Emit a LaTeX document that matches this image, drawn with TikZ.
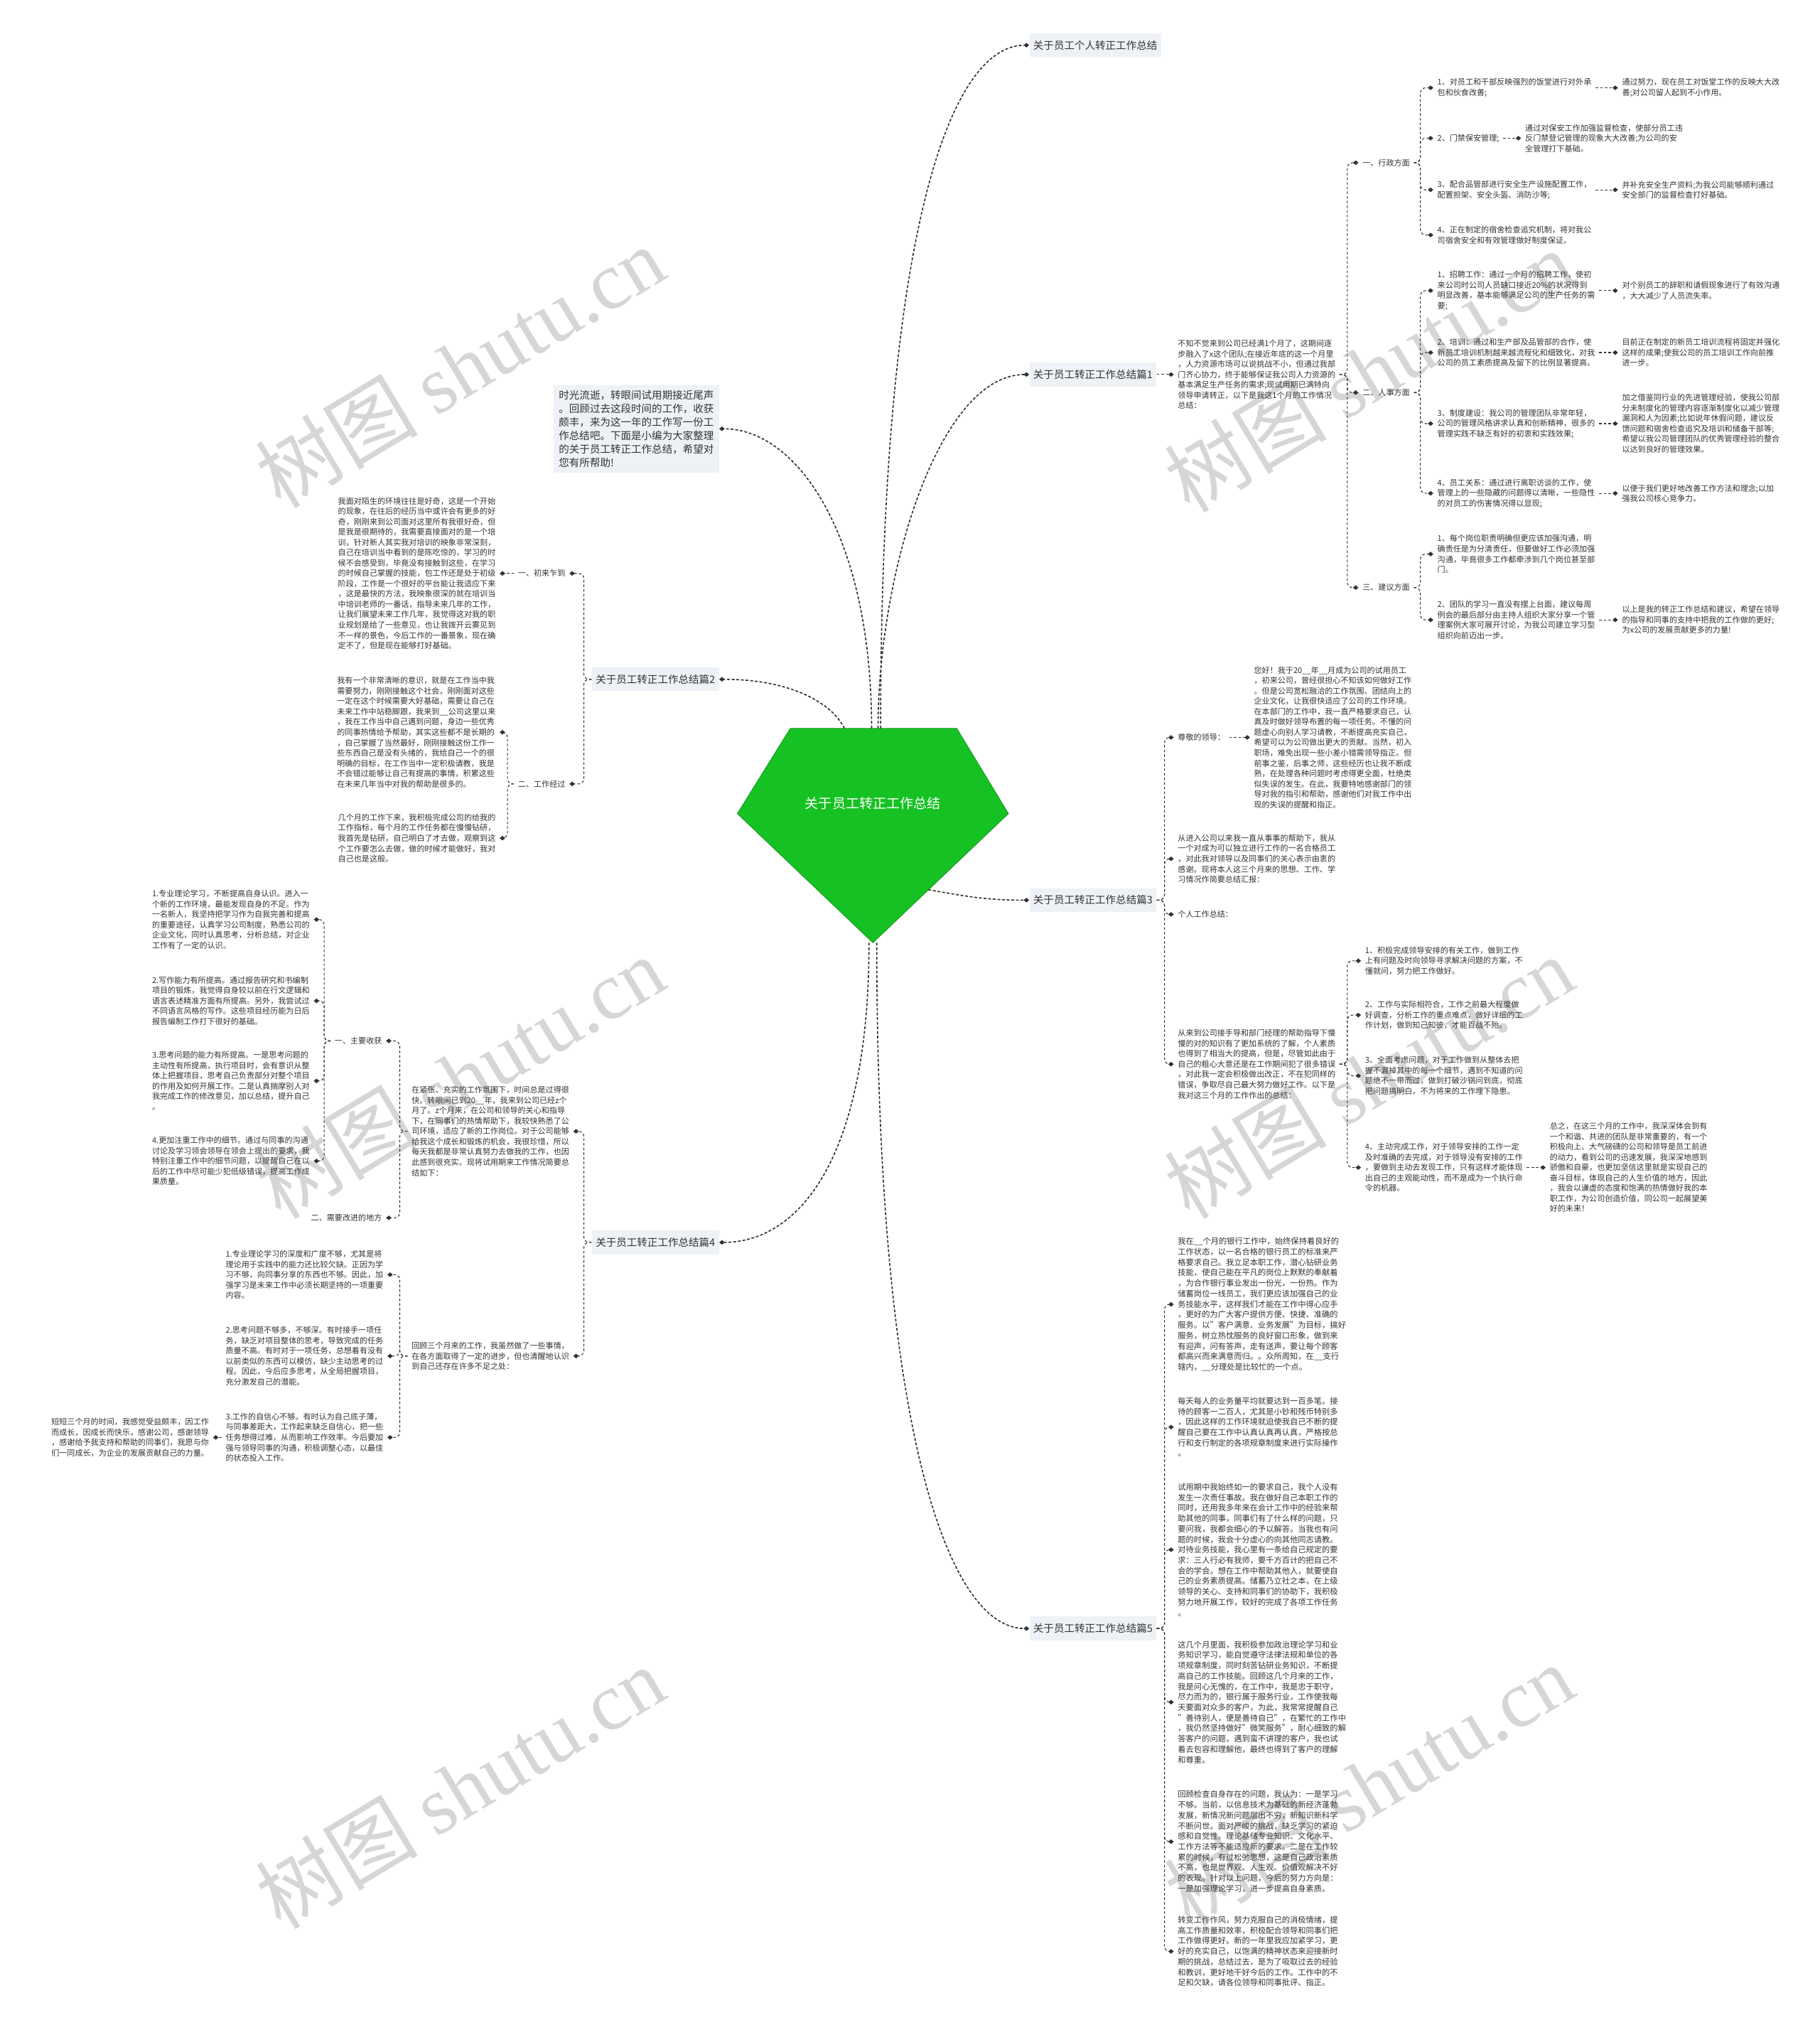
\documentclass[tikz,border=0pt]{standalone}
\usepackage{fontspec}
\setmainfont{Noto Sans CJK SC}
\newfontfamily\wmlatin{Liberation Serif}
\usetikzlibrary{arrows.meta}
\definecolor{Ink}{HTML}{333333}
\definecolor{Hub}{HTML}{16C123}
\definecolor{Tag}{HTML}{EEF1F5}
\definecolor{Mark}{HTML}{D6D6D6}
\tikzset{
  topic/.style={
    fill=Tag, text=Ink, font=\fontsize{8}{10.5}\selectfont,
    inner xsep=3pt, inner ysep=5.5pt, align=left
  },
  leaf/.style={
    text=Ink, font=\fontsize{6.1}{8}\selectfont, align=left,
    inner xsep=3pt, inner ysep=1pt
  },
  bankleaf/.style={leaf, font=\fontsize{6.2}{8.1}\selectfont},
  link/.style={
    draw=Ink, line width=0.6pt, dash pattern=on 2pt off 1.6pt,
    rounded corners=4pt, -{Diamond[length=4.2pt,width=3.6pt]}
  },
  hublink/.style={link, line width=0.9pt, dash pattern=on 2.2pt off 1.4pt},
  wm/.style={rotate=31, text=Mark, font=\fontsize{63}{63}\selectfont}
}

\begin{document}
\begin{tikzpicture}[x=1pt,y=-1pt]
  \useasboundingbox[fill=white] (0,0) rectangle (1409,1568);

  % watermark
  \node[wm] (wm1) at (356,284) {树图 {\wmlatin shutu.cn}};
  \node[wm] (wm2) at (1060,287) {树图 {\wmlatin shutu.cn}};
  \node[wm] (wm3) at (356,834) {树图 {\wmlatin shutu.cn}};
  \node[wm] (wm4) at (1060,834) {树图 {\wmlatin shutu.cn}};
  \node[wm] (wm5) at (356,1384) {树图 {\wmlatin shutu.cn}};
  \node[wm] (wm6) at (1060,1382) {树图 {\wmlatin shutu.cn}};

  % centre
  \filldraw[fill=Hub, draw=Hub!75!black, line width=0.4pt]
    (612,564) -- (741,564) -- (781,630) -- (676,730) -- (571,630) -- cycle;
  \node[text=white, font=\fontsize{10.5}{12}\selectfont] (hub) at (676,622) {关于员工转正工作总结};
  \coordinate (hubN) at (676,564);
  \coordinate (hubS) at (676,730);
  \coordinate (hubE) at (719,689);

  % topics
  \node[topic, anchor=west] (tA) at (797,35) {关于员工个人转正工作总结};
  \node[topic, anchor=west] (tB) at (797,290) {关于员工转正工作总结篇1};
  \node[topic, anchor=west] (tC) at (797,697) {关于员工转正工作总结篇3};
  \node[topic, anchor=west] (tE) at (797,1261) {关于员工转正工作总结篇5};
  \node[topic, anchor=east, inner xsep=4pt, inner ysep=4pt] (tS) at (557,332) {时光流逝，转眼间试用期接近尾声\\。回顾过去这段时间的工作，收获\\颇丰，来为这一年的工作写一份工\\作总结吧。下面是小编为大家整理\\的关于员工转正工作总结，希望对\\您有所帮助!};
  \node[topic, anchor=east] (tD) at (557,526) {关于员工转正工作总结篇2};
  \node[topic, anchor=east] (tF) at (557,962) {关于员工转正工作总结篇4};

  \draw[hublink] ([xshift=6pt]hubN) .. controls +(0,-390) and +(-60,0) .. (tA.west);
  \draw[hublink] ([xshift=4pt]hubN) .. controls +(0,-120) and +(-70,0) .. (tB.west);
  \draw[hublink] ([xshift=-1pt]hubN) .. controls +(0,-150) and +(60,0) .. (tS.east);
  \draw[hublink] ([xshift=-22pt]hubN) .. controls +(-10,-20) and +(55,0) .. (tD.east);
  \draw[hublink] (hubE) .. controls +(30,5) and +(-35,0) .. (tC.west);
  \draw[hublink] ([xshift=-3pt]hubS) .. controls +(0,170) and +(60,0) .. (tF.east);
  \draw[hublink] ([xshift=3pt]hubS) .. controls +(0,390) and +(-60,0) .. (tE.west);

  % part 1
  \node[leaf, anchor=west] (p1) at (909,290) {不知不觉来到公司已经满1个月了，这期间逐\\步融入了x这个团队;在接近年底的这一个月里\\，人力资源市场可以说挑战不小，但通过我部\\门齐心协力，终于能够保证我公司人力资源的\\基本满足生产任务的需求;现试用期已满特向\\领导申请转正，以下是我这1个月的工作情况\\总结：};
  \node[leaf, anchor=west] (b1) at (1052,126) {一、行政方面};
  \node[leaf, anchor=west] (b2) at (1052,304) {二、人事方面};
  \node[leaf, anchor=west] (b3) at (1052,455) {三、建议方面};
  \node[leaf, anchor=west] (i11) at (1110,68) {1、对员工和干部反映强烈的饭堂进行对外承\\包和伙食改善;};
  \node[leaf, anchor=west] (i12) at (1110,107) {2、门禁保安管理;};
  \node[leaf, anchor=west] (i13) at (1110,147) {3、配合品管部进行安全生产设施配置工作，\\配置担架、安全头盔、消防沙等;};
  \node[leaf, anchor=west] (i14) at (1110,182) {4、正在制定的宿舍检查追究机制，将对我公\\司宿舍安全和有效管理做好制度保证。};
  \node[leaf, anchor=west] (r11) at (1253,68) {通过努力，现在员工对饭堂工作的反映大大改\\善;对公司留人起到不小作用。};
  \node[leaf, anchor=west] (r12) at (1178,107) {通过对保安工作加强监督检查，使部分员工违\\反门禁登记管理的现象大大改善;为公司的安\\全管理打下基础。};
  \node[leaf, anchor=west] (r13) at (1253,147) {并补充安全生产资料;为我公司能够顺利通过\\安全部门的监督检查打好基础。};
  \node[leaf, anchor=west] (i21) at (1110,225) {1、招聘工作：通过一个月的招聘工作，使初\\来公司时公司人员缺口接近20\%的状况得到\\明显改善，基本能够满足公司的生产任务的需\\要;};
  \node[leaf, anchor=west] (i22) at (1110,273) {2、培训：通过和生产部及品管部的合作，使\\新员工培训机制越来越流程化和细致化，对我\\公司的员工素质提高及留下的比例显著提高。};
  \node[leaf, anchor=west] (i23) at (1110,328) {3、制度建设：我公司的管理团队非常年轻，\\公司的管理风格讲求认真和创新精神，很多的\\管理实践不缺乏有好的初衷和实践效果;};
  \node[leaf, anchor=west] (i24) at (1110,382) {4、员工关系：通过进行离职访谈的工作，使\\管理上的一些隐藏的问题得以清晰，一些隐性\\的对员工的伤害情况得以显现;};
  \node[leaf, anchor=west] (r21) at (1253,225) {对个别员工的辞职和请假现象进行了有效沟通\\，大大减少了人员流失率。};
  \node[leaf, anchor=west] (r22) at (1253,273) {目前正在制定的新员工培训流程将固定并强化\\这样的成果;使我公司的员工培训工作向前推\\进一步。};
  \node[leaf, anchor=west] (r23) at (1253,328) {加之借鉴同行业的先进管理经验，使我公司部\\分未制度化的管理内容逐渐制度化以减少管理\\漏洞和人为因素;比如说年休假问题，建议反\\馈问题和宿舍检查追究及培训和储备干部等;\\希望以我公司管理团队的优秀管理经验的整合\\以达到良好的管理效果。};
  \node[leaf, anchor=west] (r24) at (1253,382) {以便于我们更好地改善工作方法和理念;以加\\强我公司核心竞争力。};
  \node[leaf, anchor=west] (i31) at (1110,429) {1、每个岗位职责明确但更应该加强沟通，明\\确责任是为分清责任，但要做好工作必须加强\\沟通，毕竟很多工作都牵涉到几个岗位甚至部\\门。};
  \node[leaf, anchor=west] (i32) at (1110,480) {2、团队的学习一直没有摆上台面，建议每周\\例会的最后部分由主持人组织大家分享一个管\\理案例大家可展开讨论，为我公司建立学习型\\组织向前迈出一步。};
  \node[leaf, anchor=west] (r32) at (1253,480) {以上是我的转正工作总结和建议，希望在领导\\的指导和同事的支持中把我的工作做的更好;\\为x公司的发展贡献更多的力量!};

  \draw[link] (tB.east) -- (p1.west);
  \draw[link] (p1.east) -- ++(6,0) |- (b1.west);
  \draw[link] (p1.east) -- ++(6,0) |- (b2.west);
  \draw[link] (p1.east) -- ++(6,0) |- (b3.west);
  \draw[link] (b1.east) -- ++(5,0) |- (i11.west);
  \draw[link] (b1.east) -- ++(5,0) |- (i12.west);
  \draw[link] (b1.east) -- ++(5,0) |- (i13.west);
  \draw[link] (b1.east) -- ++(5,0) |- (i14.west);
  \draw[link] (i11.east) -- (r11.west);
  \draw[link] (i12.east) -- (r12.west);
  \draw[link] (i13.east) -- (r13.west);
  \draw[link] (b2.east) -- ++(5,0) |- (i21.west);
  \draw[link] (b2.east) -- ++(5,0) |- (i22.west);
  \draw[link] (b2.east) -- ++(5,0) |- (i23.west);
  \draw[link] (b2.east) -- ++(5,0) |- (i24.west);
  \draw[link] (i21.east) -- (r21.west);
  \draw[link] (i22.east) -- (r22.west);
  \draw[link] (i23.east) -- (r23.west);
  \draw[link] (i24.east) -- (r24.west);
  \draw[link] (b3.east) -- ++(5,0) |- (i31.west);
  \draw[link] (b3.east) -- ++(5,0) |- (i32.west);
  \draw[link] (i32.east) -- (r32.west);

  % part 2
  \node[leaf, anchor=east] (g1) at (441,444) {一、初来乍到};
  \node[leaf, anchor=east] (g2) at (441,607) {二、工作经过};
  \node[leaf, anchor=east] (g1p) at (387,444) {我面对陌生的环境往往是好奇，这是一个开始\\的现象，在往后的经历当中或许会有更多的好\\奇，刚刚来到公司面对这里所有我很好奇，但\\是我是很期待的，我需要直接面对的是一个培\\训，针对新人其实我对培训的映象非常深刻，\\自己在培训当中看到的是陈吃惊的，学习的时\\候不会感受到，毕竟没有接触到这些，在学习\\的时候自己掌握的技能，包工作还是处于初级\\阶段，工作是一个很好的平台能让我适应下来\\，这是最快的方法，我映象很深的就在培训当\\中培训老师的一番话，指导未来几年的工作，\\让我们展望未来工作几年，我觉得这对我的职\\业规划是给了一些意见，也让我拨开云雾见到\\不一样的景色，今后工作的一番景象，现在确\\定不了，但是现在能够打好基础。};
  \node[leaf, anchor=east] (g2a) at (387,567) {我有一个非常清晰的意识，就是在工作当中我\\需要努力，刚刚接触这个社会，刚刚面对这些\\一定在这个时候需要大好基础，需要让自己在\\未来工作中站稳脚跟，我来到\_\_公司这里以来\\，我在工作当中自己遇到问题，身边一些优秀\\的同事热情给予帮助，其实这些都不是长期的\\，自己掌握了当然最好，刚刚接触这份工作一\\些东西自己是没有头绪的，我给自己一个的很\\明确的目标，在工作当中一定积极请教，我是\\不会错过能够让自己有提高的事情，积累这些\\在未来几年当中对我的帮助是很多的。};
  \node[leaf, anchor=east] (g2b) at (387,649) {几个月的工作下来，我积极完成公司的给我的\\工作指标，每个月的工作任务都在慢慢钻研，\\我首先是钻研，自己明白了才去做，观察到这\\个工作要怎么去做，做的时候才能做好，我对\\自己也是这般。};

  \draw[link] (tD.west) -- ++(-6,0) |- (g1.east);
  \draw[link] (tD.west) -- ++(-6,0) |- (g2.east);
  \draw[link] (g1.west) -- (g1p.east);
  \draw[link] (g2.west) -- ++(-5,0) |- (g2a.east);
  \draw[link] (g2.west) -- ++(-5,0) |- (g2b.east);

  % part 3
  \node[leaf, anchor=west] (c1) at (909,571) {尊敬的领导：};
  \node[leaf, anchor=west] (c1p) at (968,571) {您好！我于20\_\_年\_\_月成为公司的试用员工\\，初来公司，曾经很担心不知该如何做好工作\\。但是公司宽松融洽的工作氛围、团结向上的\\企业文化，让我很快适应了公司的工作环境。\\在本部门的工作中，我一直严格要求自己，认\\真及时做好领导布置的每一项任务。不懂的问\\题虚心向别人学习请教，不断提高充实自己，\\希望可以为公司做出更大的贡献。当然，初入\\职场，难免出现一些小差小错需领导指正。但\\前事之鉴，后事之师，这些经历也让我不断成\\熟，在处理各种问题时考虑得更全面，杜绝类\\似失误的发生。在此，我要特地感谢部门的领\\导对我的指引和帮助，感谢他们对我工作中出\\现的失误的提醒和指正。};
  \node[leaf, anchor=west] (c2) at (909,665) {从进入公司以来我一直从事事的帮助下，我从\\一个对成为可以独立进行工作的一名合格员工\\，对此我对领导以及同事们的关心表示由衷的\\感谢。现将本人这三个月来的思想、工作、学\\习情况作简要总结汇报：};
  \node[leaf, anchor=west] (c3) at (909,708) {个人工作总结：};
  \node[leaf, anchor=west] (c4) at (909,824) {从来到公司接手导和部门经理的帮助指导下慢\\慢的对的知识有了更加系统的了解，个人素质\\也得到了相当大的提高，但是，尽管如此由于\\自己的粗心大意还是在工作期间犯了很多错误\\，对此我一定会积极做出改正，不在犯同样的\\错误，争取尽自己最大努力做好工作。以下是\\我对这三个月的工作作出的总结：};
  \node[leaf, anchor=west] (d1) at (1054,744) {1、积极完成领导安排的有关工作，做到工作\\上有问题及时向领导寻求解决问题的方案，不\\懂就问，努力把工作做好。};
  \node[leaf, anchor=west] (d2) at (1054,786) {2、工作与实际相符合，工作之前最大程度做\\好调查，分析工作的重点难点，做好详细的工\\作计划，做到知己知彼，才能百战不殆。};
  \node[leaf, anchor=west] (d3) at (1054,833) {3、全面考虑问题，对于工作做到从整体去把\\握不漏掉其中的每一个细节，遇到不知道的问\\题绝不一带而过，做到打破沙锅问到底，彻底\\把问题搞明白，不为将来的工作埋下隐患。};
  \node[leaf, anchor=west] (d4) at (1054,904) {4、主动完成工作，对于领导安排的工作一定\\及时准确的去完成，对于领导没有安排的工作\\，要做到主动去发现工作，只有这样才能体现\\出自己的主观能动性，而不是成为一个执行命\\令的机器。};
  \node[leaf, anchor=west] (d4p) at (1197,904) {总之，在这三个月的工作中，我深深体会到有\\一个和谐、共进的团队是非常重要的，有一个\\积极向上、大气磅礴的公司和领导是员工前进\\的动力，看到公司的迅速发展，我深深地感到\\骄傲和自豪，也更加坚信这里就是实现自己的\\奋斗目标，体现自己的人生价值的地方，因此\\，我会以谦虚的态度和饱满的热情做好我的本\\职工作，为公司创造价值，同公司一起展望美\\好的未来！};

  \draw[link] (tC.east) -- ++(6,0) |- (c1.west);
  \draw[link] (tC.east) -- ++(6,0) |- (c2.west);
  \draw[link] (tC.east) -- ++(6,0) |- (c3.west);
  \draw[link] (tC.east) -- ++(6,0) |- (c4.west);
  \draw[link] (c1.east) -- (c1p.west);
  \draw[link] (c4.east) -- ++(6,0) |- (d1.west);
  \draw[link] (c4.east) -- ++(6,0) |- (d2.west);
  \draw[link] (c4.east) -- ++(6,0) |- (d3.west);
  \draw[link] (c4.east) -- ++(6,0) |- (d4.west);
  \draw[link] (d4.east) -- (d4p.west);

  % part 4
  \node[leaf, anchor=east] (h1) at (444,876) {在紧张、充实的工作氛围下，时间总是过得很\\快。转眼间已到20\_\_年，我来到公司已经z个\\月了。z个月来，在公司和领导的关心和指导\\下，在同事们的热情帮助下，我较快熟悉了公\\司环境，适应了新的工作岗位。对于公司能够\\给我这个成长和锻炼的机会，我很珍惜，所以\\每天我都是非常认真努力去做我的工作，也因\\此感到很充实。现将试用期来工作情况简要总\\结如下：};
  \node[leaf, anchor=east] (h2) at (444,1050) {回顾三个月来的工作，我虽然做了一些事情，\\在各方面取得了一定的进步，但也清醒地认识\\到自己还存在许多不足之处：};
  \node[leaf, anchor=east] (k1) at (299,806) {一、主要收获};
  \node[leaf, anchor=east] (k2) at (299,943) {二、需要改进的地方};
  \node[leaf, anchor=east] (k11) at (243,712) {1.专业理论学习，不断提高自身认识。进入一\\个新的工作环境，最能发现自身的不足。作为\\一名新人，我坚持把学习作为自我完善和提高\\的重要途径，认真学习公司制度，熟悉公司的\\企业文化，同时认真思考，分析总结，对企业\\工作有了一定的认识。};
  \node[leaf, anchor=east] (k12) at (243,775) {2.写作能力有所提高。通过报告研究和书编制\\项目的锻炼，我觉得自身较以前在行文逻辑和\\语言表述精准方面有所提高。另外，我尝试过\\不同语言风格的写作。这些项目经历能为日后\\报告编制工作打下很好的基础。};
  \node[leaf, anchor=east] (k13) at (243,837) {3.思考问题的能力有所提高。一是思考问题的\\主动性有所提高，执行项目时，会有意识从整\\体上把握项目，思考自己负责部分对整个项目\\的作用及如何开展工作。二是认真揣摩别人对\\我完成工作的修改意见，加以总结，提升自己\\。};
  \node[leaf, anchor=east] (k14) at (243,899) {4.更加注重工作中的细节。通过与同事的沟通\\讨论及学习领会领导在领会上提出的要求，我\\特别注重工作中的细节问题，以提醒自己在以\\后的工作中尽可能少犯低级错误，提高工作成\\果质量。};
  \node[leaf, anchor=east] (m1) at (300,987) {1.专业理论学习的深度和广度不够，尤其是将\\理论用于实践中的能力还比较欠缺。正因为学\\习不够，向同事分享的东西也不够。因此，加\\强学习是未来工作中必须长期坚持的一项重要\\内容。};
  \node[leaf, anchor=east] (m2) at (300,1050) {2.思考问题不够多，不够深。有时接手一项任\\务，缺乏对项目整体的思考，导致完成的任务\\质量不高。有时对于一项任务，总想着有没有\\以前类似的东西可以模仿，缺少主动思考的过\\程。因此，今后应多思考，从全局把握项目，\\充分激发自己的潜能。};
  \node[leaf, anchor=east] (m3) at (300,1113) {3.工作的自信心不够。有时认为自己底子薄，\\与同事差距大，工作起来缺乏自信心，把一些\\任务想得过难，从而影响工作效率。今后要加\\强与领导同事的沟通，积极调整心态，以最佳\\的状态投入工作。};
  \node[leaf, anchor=east] (m3p) at (165,1113) {短短三个月的时间，我感觉受益颇丰，因工作\\而成长，因成长而快乐，感谢公司，感谢领导\\，感谢给予我支持和帮助的同事们，我愿与你\\们一同成长，为企业的发展贡献自己的力量。};

  \draw[link] (tF.west) -- ++(-6,0) |- (h1.east);
  \draw[link] (tF.west) -- ++(-6,0) |- (h2.east);
  \draw[link] (h1.west) -- ++(-6,0) |- (k1.east);
  \draw[link] (h1.west) -- ++(-6,0) |- (k2.east);
  \draw[link] (k1.west) -- ++(-5,0) |- (k11.east);
  \draw[link] (k1.west) -- ++(-5,0) |- (k12.east);
  \draw[link] (k1.west) -- ++(-5,0) |- (k13.east);
  \draw[link] (k1.west) -- ++(-5,0) |- (k14.east);
  \draw[link] (h2.west) -- ++(-6,0) |- (m1.east);
  \draw[link] (h2.west) -- ++(-6,0) |- (m2.east);
  \draw[link] (h2.west) -- ++(-6,0) |- (m3.east);
  \draw[link] (m3.west) -- (m3p.east);

  % part 5
  \node[bankleaf, anchor=west] (e1) at (909,1010) {我在\_\_个月的银行工作中，始终保持着良好的\\工作状态，以一名合格的银行员工的标准来严\\格要求自己。我立足本职工作，潜心钻研业务\\技能，使自己能在平凡的岗位上默默的奉献着\\，为合作银行事业发出一份光，一份热。作为\\储蓄岗位一线员工，我们更应该加强自己的业\\务技能水平，这样我们才能在工作中得心应手\\，更好的为广大客户提供方便、快捷、准确的\\服务。以"客户满意、业务发展"为目标，搞好\\服务，树立热忱服务的良好窗口形象，做到来\\有迎声，问有答声，走有送声，要让每个顾客\\都高兴而来满意而归。。众所周知，在\_\_支行\\辖内，\_\_分理处是比较忙的一个点。};
  \node[bankleaf, anchor=west] (e2) at (909,1105) {每天每人的业务量平均就要达到一百多笔。接\\待的顾客一二百人，尤其是小钞和残币特别多\\，因此这样的工作环境就迫使我自己不断的提\\醒自己要在工作中认真认真再认真，严格按总\\行和支行制定的各项规章制度来进行实际操作\\。};
  \node[bankleaf, anchor=west] (e3) at (909,1200) {试用期中我始终如一的要求自己，我个人没有\\发生一次责任事故。我在做好自己本职工作的\\同时，还用我多年来在会计工作中的经验来帮\\助其他的同事，同事们有了什么样的问题，只\\要问我，我都会细心的予以解答。当我也有问\\题的时候，我会十分虚心的向其他同志请教。\\对待业务技能，我心里有一条给自己规定的要\\求：三人行必有我师，要千方百计的把自己不\\会的学会。想在工作中帮助其他人，就要使自\\己的业务素质提高。储蓄乃立社之本，在上级\\领导的关心、支持和同事们的协助下，我积极\\努力地开展工作，较好的完成了各项工作任务\\。};
  \node[bankleaf, anchor=west] (e4) at (909,1318) {这几个月里面，我积极参加政治理论学习和业\\务知识学习，能自觉遵守法律法规和单位的各\\项规章制度，同时刻苦钻研业务知识，不断提\\高自己的工作技能。回顾这几个月来的工作，\\我是问心无愧的，在工作中，我是忠于职守，\\尽力而为的，银行属于服务行业，工作使我每\\天要面对众多的客户，为此，我常常提醒自己\\"善待别人，便是善待自己"，在繁忙的工作中\\，我仍然坚持做好"微笑服务"，耐心细致的解\\答客户的问题，遇到蛮不讲理的客户，我也试\\着去包容和理解他，最终也得到了客户的理解\\和尊重。};
  \node[bankleaf, anchor=west] (e5) at (909,1426) {回顾检查自身存在的问题，我认为：一是学习\\不够。当前，以信息技术为基础的新经济蓬勃\\发展，新情况新问题层出不穷，新知识新科学\\不断问世。面对严峻的挑战，缺乏学习的紧迫\\感和自觉性。理论基储专业知识、文化水平、\\工作方法等不能适应新的要求。二是在工作较\\累的时候，有过松弛思想，这是自己政治素质\\不高，也是世界观、人生观、价值观解决不好\\的表现。针对以上问题，今后的努力方向是：\\一是加强理论学习，进一步提高自身素质。};
  \node[bankleaf, anchor=west] (e6) at (909,1511) {转变工作作风，努力克服自己的消极情绪，提\\高工作质量和效率，积极配合领导和同事们把\\工作做得更好。新的一年里我应加紧学习，更\\好的充实自己，以饱满的精神状态来迎接新时\\期的挑战，总结过去，是为了吸取过去的经验\\和教训，更好地干好今后的工作。工作中的不\\足和欠缺，请各位领导和同事批评、指正。};

  \draw[link] (tE.east) -- ++(6,0) |- (e1.west);
  \draw[link] (tE.east) -- ++(6,0) |- (e2.west);
  \draw[link] (tE.east) -- ++(6,0) |- (e3.west);
  \draw[link] (tE.east) -- ++(6,0) |- (e4.west);
  \draw[link] (tE.east) -- ++(6,0) |- (e5.west);
  \draw[link] (tE.east) -- ++(6,0) |- (e6.west);
\end{tikzpicture}
\end{document}
